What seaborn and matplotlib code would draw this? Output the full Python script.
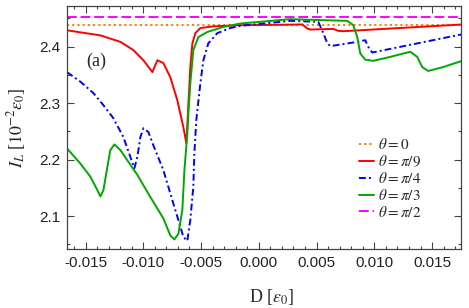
import matplotlib
matplotlib.use("Agg")
import matplotlib.pyplot as plt
import seaborn as sns
import pandas as pd
from matplotlib.ticker import MultipleLocator, FormatStrFormatter

# Values
d_red = [-0.0166, -0.01371, -0.01198, -0.01086, -0.00999, -0.00921, -0.00878, -0.00826,
         -0.00766, -0.00705, -0.00653, -0.00627, -0.00593, -0.00575, -0.00549, -0.00506,
         -0.00394, -0.0016, 0.00272, 0.00376, 0.0042, 0.00446, 0.00644, 0.00688, 0.00731, 0.0176]
i_red = [2.429, 2.420, 2.4085, 2.394, 2.376, 2.355, 2.376, 2.371,
         2.346, 2.305, 2.2575, 2.229, 2.364, 2.406, 2.424, 2.433,
         2.436, 2.438, 2.439, 2.4394, 2.432, 2.4304, 2.4315, 2.428, 2.4274, 2.4393]

d_blue = [-0.0166, -0.01544, -0.01432, -0.01345, -0.01259, -0.01172, -0.01112, -0.01077,
          -0.01051, -0.01025, -0.00999, -0.00956, -0.00913, -0.00826, -0.00748, -0.00696,
          -0.00653, -0.00619, -0.00593, -0.00567, -0.00558, -0.00541, -0.00532, -0.00506,
          -0.0048, -0.00437, -0.00359, -0.00247, -0.0016, 0.00272, 0.00515, 0.00558,
          0.00593, 0.00619, 0.00852, 0.00921, 0.00947, 0.00982, 0.0176]
i_blue = [2.355, 2.338, 2.318, 2.2965, 2.2735, 2.240, 2.205, 2.185,
          2.205, 2.240, 2.2557, 2.249, 2.2257, 2.1814, 2.128, 2.093,
          2.0633, 2.0563, 2.093, 2.152, 2.2115, 2.27, 2.2876, 2.335,
          2.376, 2.406, 2.424, 2.433, 2.437, 2.4457, 2.444, 2.424,
          2.406, 2.401, 2.4085, 2.4115, 2.3996, 2.3897, 2.422]

d_green = [-0.0166, -0.01544, -0.01458, -0.01397, -0.01371, -0.01345, -0.01311, -0.01285,
           -0.0125, -0.01198, -0.01138, -0.01051, -0.00939, -0.00826, -0.00766, -0.00731,
           -0.00696, -0.00662, -0.00644, -0.00619, -0.0061, -0.00593, -0.00567, -0.00523,
           -0.00446, -0.00307, -0.0016, 0.00272, 0.00766, 0.00818, 0.00852, 0.00878,
           0.00921, 0.00991, 0.01138, 0.01311, 0.01371, 0.01414, 0.01466, 0.01596, 0.0176]
i_green = [2.220, 2.193, 2.170, 2.146, 2.135, 2.146, 2.187, 2.217,
           2.227, 2.217, 2.199, 2.173, 2.134, 2.096, 2.066, 2.0588,
           2.069, 2.111, 2.181, 2.246, 2.282, 2.335, 2.394, 2.417,
           2.426, 2.435, 2.441, 2.4487, 2.4457, 2.438, 2.417, 2.388,
           2.377, 2.375, 2.382, 2.391, 2.382, 2.364, 2.357, 2.364, 2.375]

d_flat = [-0.0166, 0.0176]
i_zero = [2.438, 2.438]
i_half = [2.453, 2.453]

labels = [r"$\theta = 0$", r"$\theta = \pi/9$", r"$\theta = \pi/4$",
          r"$\theta = \pi/3$", r"$\theta = \pi/2$"]

sns.set_theme(style="ticks")
plt.rcParams['font.family'] = ['Liberation Sans', 'DejaVu Sans']
plt.rcParams['mathtext.fontset'] = 'stix'

fig = plt.figure(figsize=(4.69, 3.08), dpi=100)
ax = fig.add_axes([0.1429, 0.1916, 0.8401, 0.7889])

sns.lineplot(x=d_flat, y=i_zero, ax=ax, color="#ff8000", lw=1.5,
             linestyle=(0, (1, 1.5)), label=labels[0])
sns.lineplot(x=d_red, y=i_red, ax=ax, color="#ff0000", lw=1.4, sort=False, label=labels[1])
sns.lineplot(x=d_blue, y=i_blue, ax=ax, color="#0000ff", lw=1.4, sort=False,
             linestyle=(0, (3.5, 1.6, 1, 1.6)), label=labels[2])
sns.lineplot(x=d_green, y=i_green, ax=ax, color="#00a800", lw=1.4, sort=False, label=labels[3])
sns.lineplot(x=d_flat, y=i_half, ax=ax, color="#ff00ff", lw=1.4,
             linestyle=(0, (5, 2)), label=labels[4])

ax.set_xlim(-0.0166, 0.0175)
ax.set_ylim(2.042, 2.472)
ax.xaxis.set_major_locator(MultipleLocator(0.005))
ax.xaxis.set_minor_locator(MultipleLocator(0.001))
ax.yaxis.set_major_locator(MultipleLocator(0.1))
ax.yaxis.set_minor_locator(MultipleLocator(0.05))
ax.xaxis.set_major_formatter(FormatStrFormatter('%.3f'))
ax.yaxis.set_major_formatter(FormatStrFormatter('%.1f'))
ax.tick_params(which='both', direction='in', top=True, right=True, color='#444444',
               labelsize=11, labelcolor='#222222', width=0.8)
ax.tick_params(which='major', length=5, pad=5)
ax.tick_params(which='minor', length=2.5)
for s in ax.spines.values():
    s.set_color('#444444')
    s.set_linewidth(0.9)

ax.set_xlabel(r"D [$\epsilon_0$]", family='Liberation Serif', fontsize=13)
ax.set_ylabel(r"$I_L$ [$10^{-2}\epsilon_0$]", family='Liberation Serif', fontsize=13)
ax.xaxis.set_label_coords(0.52, -0.155)
ax.yaxis.set_label_coords(-0.10, 0.5)

ax.text(0.074, 0.774, "(a)", transform=ax.transAxes, family='Liberation Serif',
        fontsize=13, ha='center', va='center')

ax.legend(loc='lower left', bbox_to_anchor=(0.74, 0.12), frameon=False, fontsize=11,
          handlelength=1.0, handletextpad=0.3, labelspacing=0.12,
          borderaxespad=0, borderpad=0)

fig.savefig("out.png", dpi=100)
